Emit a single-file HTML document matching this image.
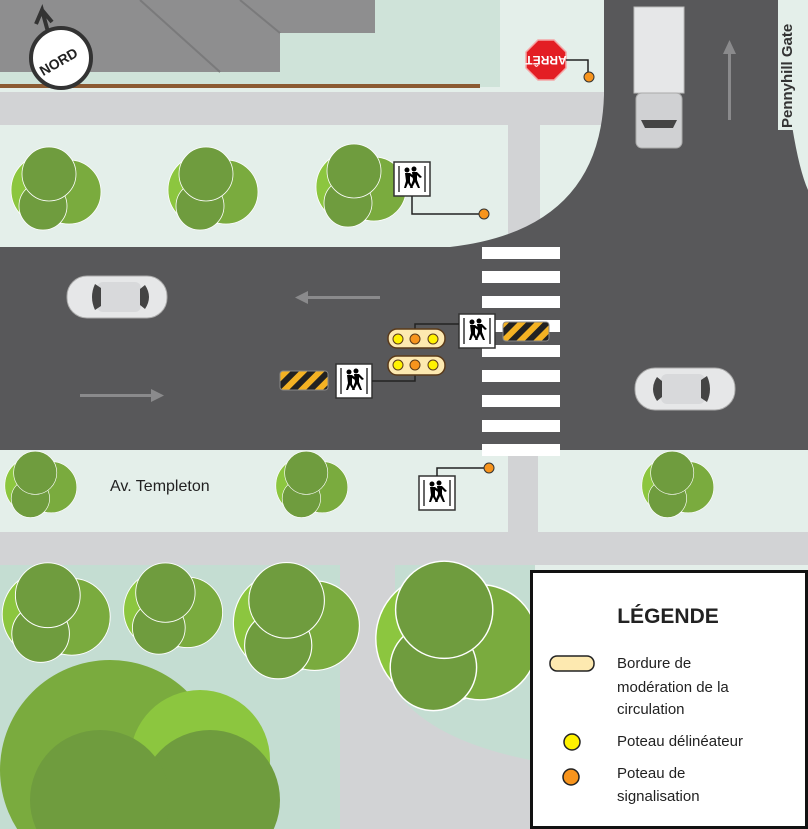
<!DOCTYPE html>
<html><head><meta charset="utf-8"><style>
html,body{margin:0;padding:0;width:808px;height:829px;overflow:hidden;background:#e4efea}
svg{display:block;position:absolute;left:0;top:0}
text{font-family:"Liberation Sans",sans-serif}
</style></head><body>
<svg width="808" height="829" viewBox="0 0 808 829" xmlns="http://www.w3.org/2000/svg">
<defs>
<pattern id="hz" width="12" height="12" patternUnits="userSpaceOnUse" patternTransform="rotate(45)">
<rect width="12" height="12" fill="#f4b223"/><rect width="6" height="12" fill="#222"/></pattern>
<g id="ped"><rect x="-18" y="-17" width="36" height="34" fill="#fff" stroke="#333" stroke-width="1.5"/>
<line x1="-13" y1="-13" x2="-13" y2="13" stroke="#000" stroke-width="1.2"/><line x1="13" y1="-13" x2="13" y2="13" stroke="#000" stroke-width="1.2"/>
<circle cx="-5" cy="-9" r="2.5"/><path d="M-7-6h5l5 4-2 1-3-2v6l3 6h-2l-3-5-2 5h-2l2-7z"/>
<circle cx="2" cy="-10" r="2.5"/><path d="M0-7h5l5 5-2 1-3-3v5l3 8h-2l-3-6-3 6h-2l3-8z"/></g>
<g id="tree" stroke="#fff" stroke-width="0.8"><circle cx="-8" cy="2" r="36" fill="#8cc63f"/><circle cx="14" cy="4" r="32" fill="#7aab3e"/><circle cx="-12" cy="18" r="24" fill="#6f9c3e"/><circle cx="-6" cy="-14" r="27" fill="#6f9c3e"/></g>
<g id="car"><rect x="-50" y="-21" width="100" height="42" rx="20" fill="#e6e7e8" stroke="#aaa"/><rect x="-20" y="-15" width="44" height="30" rx="6" fill="#d8d9db"/><path d="M-22,-13 q-6,13 0,26 l6,-4 v-18z" fill="#444"/><path d="M28,-12 q8,12 0,24 l-5,-4 v-16z" fill="#444"/></g>
</defs>
<rect x="0" y="0" width="500" height="87" fill="#cfe3d9"/>
<polygon points="0,0 375,0 375,33 280,33 280,72 0,72" fill="#8e8e8f"/>
<line x1="140" y1="0" x2="220" y2="72" stroke="#7a7a7b" stroke-width="2"/>
<line x1="240" y1="0" x2="280" y2="33" stroke="#7a7a7b" stroke-width="2"/>
<rect x="0" y="84" width="480" height="4" fill="#8b5a32"/>
<rect x="0" y="92" width="610" height="33" fill="#d2d3d5"/>
<rect x="508" y="125" width="32" height="110" fill="#d2d3d5"/>
<path d="M0,247 L450,247 Q600,230 604,95 L604,0 L778,0 Q790,150 808,190 L808,450 L0,450 Z" fill="#58585a"/>
<rect x="778" y="0" width="30" height="130" fill="#e4efea"/>
<text transform="translate(792,128) rotate(-90)" font-size="15" font-weight="bold" fill="#333">Pennyhill Gate</text>
<rect x="0" y="450" width="808" height="82" fill="#e4efea"/>
<rect x="508" y="450" width="30" height="82" fill="#d2d3d5"/>
<rect x="0" y="532" width="808" height="33" fill="#d2d3d5"/>
<rect x="0" y="565" width="340" height="264" fill="#c4ddd2"/>
<rect x="340" y="565" width="55" height="264" fill="#d2d3d5"/>
<rect x="395" y="565" width="140" height="264" fill="#c4ddd2"/>
<path d="M395,690 Q430,740 530,760 L530,829 L395,829Z" fill="#d2d3d5"/>
<g fill="#fff">
<rect x="482" y="247" width="78" height="12"/><rect x="482" y="271" width="78" height="12"/><rect x="482" y="296" width="78" height="12"/><rect x="482" y="320" width="78" height="12"/><rect x="482" y="345" width="78" height="12"/><rect x="482" y="370" width="78" height="12"/><rect x="482" y="395" width="78" height="12"/><rect x="482" y="420" width="78" height="12"/><rect x="482" y="444" width="78" height="12"/></g>
<g fill="#8a8a8c"><rect x="305" y="296" width="75" height="3"/><polygon points="295,297.5 308,291 308,304"/>
<rect x="80" y="394" width="73" height="3"/><polygon points="164,395.5 151,389 151,402"/>
<rect x="728" y="52" width="3" height="68"/><polygon points="729.5,40 723,54 736,54"/></g>
<rect x="634" y="7" width="50" height="86" fill="#e6e7e8" stroke="#bbb"/>
<rect x="636" y="93" width="46" height="55" rx="6" fill="#d0d1d3" stroke="#aaa"/>
<path d="M641,120 h36 l-4,8 h-28z" fill="#444"/>
<use href="#car" x="117" y="297"/>
<g transform="translate(685,389) rotate(180)"><use href="#car"/></g>
<use href="#tree" x="55" y="188"/><use href="#tree" x="212" y="188"/><use href="#tree" x="360" y="185"/>
<g transform="translate(40,484) scale(0.8)"><use href="#tree"/></g>
<g transform="translate(311,484) scale(0.8)"><use href="#tree"/></g>
<g transform="translate(677,484) scale(0.8)"><use href="#tree"/></g>
<g transform="translate(55,612) scale(1.2)"><use href="#tree"/></g>
<g transform="translate(172,608) scale(1.1)"><use href="#tree"/></g>
<g transform="translate(295,620) scale(1.4)"><use href="#tree"/></g>
<g transform="translate(455,635) scale(1.8)"><use href="#tree"/></g>
<circle cx="110" cy="770" r="110" fill="#7aab3e"/><circle cx="200" cy="760" r="70" fill="#8cc63f"/><circle cx="210" cy="800" r="70" fill="#6f9c3e"/><circle cx="100" cy="800" r="70" fill="#6f9c3e"/>
<circle cx="61" cy="58" r="30" fill="#fff" stroke="#333" stroke-width="4"/>
<path d="M48,32 L42,10 L36,24 M42,10 L52,22" stroke="#333" stroke-width="4" fill="none"/>
<text transform="translate(61,66) rotate(-30)" text-anchor="middle" font-size="14" font-weight="bold" fill="#222">NORD</text>
<polygon points="538,40 554,40 566,52 566,68 554,80 538,80 526,68 526,52" fill="#e31e24" stroke="#f4a6a6" stroke-width="1.5"/>
<text transform="translate(546,60) rotate(180)" text-anchor="middle" font-size="12" font-weight="bold" fill="#fff" dy="4">ARRÊT</text>
<path d="M566,60 H588 V75" stroke="#222" fill="none" stroke-width="1.5"/><circle cx="589" cy="77" r="5" fill="#f7941d" stroke="#333"/>
<use href="#ped" x="412" y="179"/><path d="M412,196 V214 H480" stroke="#222" fill="none" stroke-width="1.5"/><circle cx="484" cy="214" r="5" fill="#f7941d" stroke="#333"/>
<use href="#ped" x="437" y="493"/><path d="M437,476 V468 H486" stroke="#222" fill="none" stroke-width="1.5"/><circle cx="489" cy="468" r="5" fill="#f7941d" stroke="#333"/>
<use href="#ped" x="477" y="331"/><use href="#ped" x="354" y="381"/>
<path d="M459,324 H415 V337 M372,381 H415 V370" stroke="#222" fill="none" stroke-width="1.5"/>
<rect x="503" y="322" width="46" height="19" rx="3" fill="url(#hz)" stroke="#888"/>
<rect x="280" y="371" width="48" height="19" rx="3" fill="url(#hz)" stroke="#888"/>
<g stroke="#5a3a1a" stroke-width="1.5"><rect x="388" y="329" width="57" height="19" rx="9" fill="#fde9b0"/><rect x="388" y="356" width="57" height="19" rx="9" fill="#fde9b0"/></g>
<g stroke="#5a3a1a"><circle cx="398" cy="339" r="5" fill="#fff200"/><circle cx="415" cy="339" r="5" fill="#f7941d"/><circle cx="433" cy="339" r="5" fill="#fff200"/>
<circle cx="398" cy="365" r="5" fill="#fff200"/><circle cx="415" cy="365" r="5" fill="#f7941d"/><circle cx="433" cy="365" r="5" fill="#fff200"/></g>
<text x="110" y="491" font-size="16" fill="#222">Av. Templeton</text>
<rect x="531.5" y="571.5" width="275" height="256" fill="#fff" stroke="#111" stroke-width="3"/>
<text x="668" y="623" text-anchor="middle" font-size="21" font-weight="bold" fill="#222">LÉGENDE</text>
<rect x="550" y="656" width="44" height="15" rx="7" fill="#fde9b0" stroke="#222" stroke-width="1.5"/>
<g font-size="15" fill="#222"><text x="617" y="668">Bordure de</text><text x="617" y="692">modération de la</text><text x="617" y="714">circulation</text>
<text x="617" y="746">Poteau délinéateur</text><text x="617" y="778">Poteau de</text><text x="617" y="801">signalisation</text></g>
<circle cx="572" cy="742" r="8" fill="#fff200" stroke="#222" stroke-width="1.5"/>
<circle cx="571" cy="777" r="8" fill="#f7941d" stroke="#222" stroke-width="1.5"/>
</svg>
</body></html>
